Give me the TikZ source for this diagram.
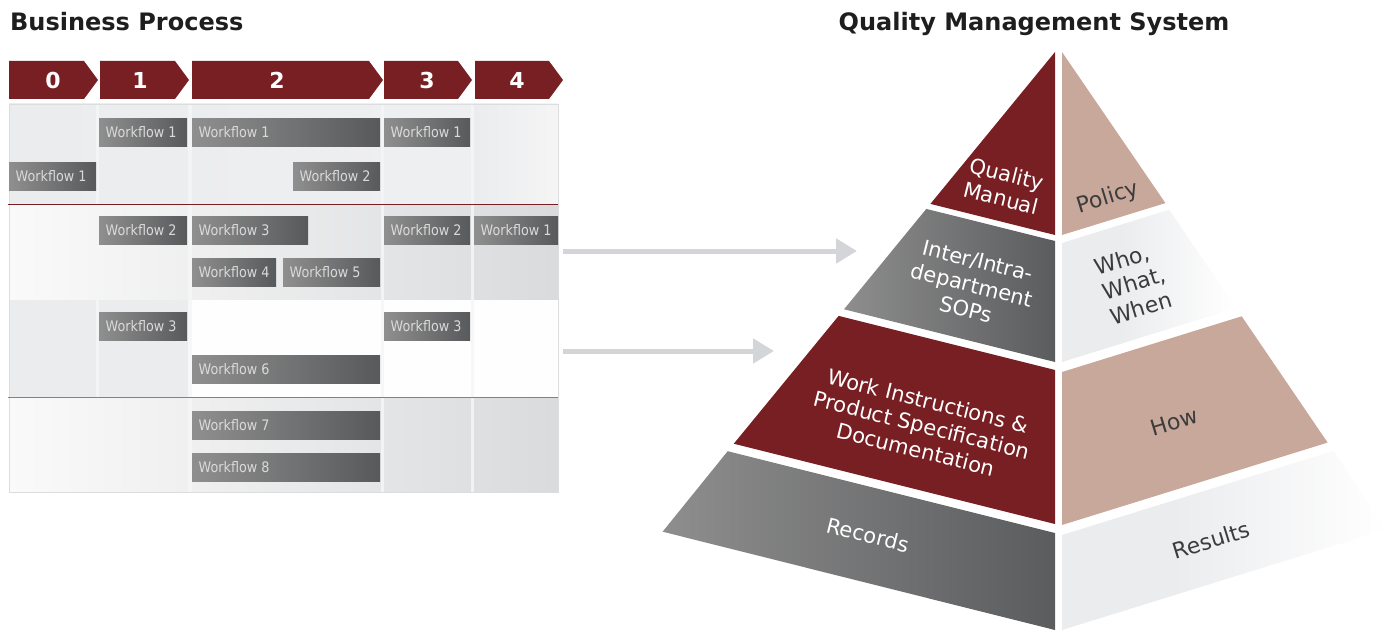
\documentclass[tikz,border=0pt]{standalone}
\usepackage{fontspec}
\setmainfont{DejaVu Sans}
\newfontfamily\barfont[FakeStretch=0.88]{DejaVu Sans}
\usetikzlibrary{arrows.meta}

% palette
\definecolor{brand}{HTML}{781F24}
\definecolor{brandsoft}{HTML}{C0676B}
\definecolor{tan}{HTML}{C8A89B}
\definecolor{bandlight}{HTML}{EBECEE}
\definecolor{arrowgray}{HTML}{D3D5D9}
\definecolor{barlight}{HTML}{8F8F8F}
\definecolor{bardark}{HTML}{58595B}
\definecolor{facelight}{HTML}{8E8E8E}
\definecolor{facedark}{HTML}{5B5C5E}
\definecolor{titleink}{HTML}{1E1E1E}
\definecolor{sideink}{HTML}{3C3C3C}
\definecolor{flowink}{HTML}{DADADA}
\definecolor{gapcol}{HTML}{F5F6F7}
\definecolor{gridedge}{HTML}{DCDDDF}

% light side bands fade out to white towards the right
\pgfdeclarehorizontalshading{fadeband}{100bp}{color(0bp)=(bandlight); color(42bp)=(bandlight); color(75bp)=(white); color(100bp)=(white)}

% one workflow bar: name, left x, top y, width, text
\newcommand{\flowbox}[5]{%
  \node[flowbar, minimum width=#4pt] (#1) at (#2,#3) {};
  \node[flowtext] (#1t) at ([xshift=6.5pt]#1.west) {#5};}

% one phase chevron: name, left x, tip x, label x, number
\newcommand{\phasechev}[5]{%
  \fill[brand] (#2,61) -- (#3-14,61) -- (#3,80) -- (#3-14,99) -- (#2,99) -- cycle;
  \node[phasenum] (#1) at (#4,80) {#5};}

\begin{document}
\begin{tikzpicture}[x=1pt,y=-1pt,
  title/.style={font=\bfseries\fontsize{24}{28}\selectfont, text=titleink, inner sep=0},
  phasenum/.style={font=\bfseries\fontsize{22}{26}\selectfont, text=white, inner sep=0},
  flowbar/.style={left color=barlight, right color=bardark, draw=none, minimum height=28pt, inner sep=0, anchor=north west},
  flowtext/.style={font=\barfont\fontsize{14.5}{17}\selectfont, text=flowink, anchor=west, inner sep=0},
  faceword/.style={font=\fontsize{21}{25}\selectfont, text=white, align=center, rotate=-14, inner sep=0},
  sideword/.style={font=\fontsize{22}{26}\selectfont, text=sideink, rotate=17, inner sep=0},
  flowarrow/.style={draw=arrowgray, line width=5pt, -{Triangle[length=21pt,width=24pt]}},
]
\useasboundingbox (0,0) rectangle (1391,631);

% ---------- titles ----------
\node[title, anchor=base west] (bptitle) at (10,31) {Business Process};
\node[title, anchor=base] (qmstitle) at (1034,31) {Quality Management System};

% ---------- phase chevrons ----------
\phasechev{ph0}{9}{98}{53}{0}
\phasechev{ph1}{100}{189}{140}{1}
\phasechev{ph2}{192}{383}{277}{2}
\phasechev{ph3}{384}{472}{427}{3}
\phasechev{ph4}{475}{563}{517}{4}

% ---------- swimlane background ----------
\fill[left color=bandlight, right color=bandlight!80!white] (9,104) rectangle (558,204);
\fill[left color=bandlight, right color=white!96!black] (474,104) rectangle (558,204);
\fill[left color=white!98!black, right color=black!3!bandlight!90!gray] (9,204) rectangle (558,300);
\fill[white!96!bandlight] (9,300) rectangle (558,397);
\fill[bandlight] (9,300) rectangle (188,397);
\fill[left color=white!98!black, right color=black!3!bandlight!90!gray] (9,397) rectangle (558,492);
% column gaps
\foreach \gx/\gw in {96/3, 187.5/4.5, 380.5/3.5, 470.5/3.5}
  \fill[gapcol, opacity=0.85] (\gx,104) rectangle ++(\gw,388);
\draw[gridedge, line width=0.8pt] (9,104) rectangle (558,492);
% lane separators
\draw[brand, line width=1.2pt] (8,204.5) -- (558,204.5);
\draw[brandsoft, line width=1.6pt] (8,397.5) -- (558,397.5);

% ---------- workflow bars ----------
\flowbox{laneAa}{99}{118}{88}{Workflow 1}
\flowbox{laneAb}{192}{118}{188}{Workflow 1}
\flowbox{laneAc}{384}{118}{86}{Workflow 1}
\flowbox{laneAd}{9}{162}{87}{Workflow 1}
\flowbox{laneAe}{293}{162}{87}{Workflow 2}
\flowbox{laneBa}{99}{216}{88}{Workflow 2}
\flowbox{laneBb}{192}{216}{116}{Workflow 3}
\flowbox{laneBc}{384}{216}{86}{Workflow 2}
\flowbox{laneBd}{474}{216}{84}{Workflow 1}
\flowbox{laneBe}{192}{258}{84}{Workflow 4}
\flowbox{laneBf}{283}{258}{97}{Workflow 5}
\flowbox{laneCa}{99}{312}{88}{Workflow 3}
\flowbox{laneCb}{384}{312}{86}{Workflow 3}
\flowbox{laneCc}{192}{355}{188}{Workflow 6}
\flowbox{laneDa}{192}{411}{188}{Workflow 7}
\flowbox{laneDb}{192}{453}{188}{Workflow 8}

% ---------- arrows into the pyramid ----------
\coordinate (laneBout) at (563,251);
\coordinate (sopin) at (857,251);
\coordinate (laneCout) at (563,351);
\coordinate (workin) at (774,351);
\draw[flowarrow] (laneBout) -- (sopin);
\draw[flowarrow] (laneCout) -- (workin);

% ---------- pyramid, front face ----------
\fill[brand] (1055,52) -- (930.4,203.9) -- (1055,235) -- cycle;
\shade[left color=facelight, right color=facedark] (926.3,208.9) -- (1055,241) -- (1055,362) -- (844,309.3) -- cycle;
\fill[brand] (838.6,315.9) -- (1055,370) -- (1055,524) -- (733.8,443.7) -- cycle;
\shade[left color=facelight, right color=facedark] (727.7,451.2) -- (1055,533) -- (1055,630) -- (662.6,531.7) -- cycle;

% ---------- pyramid, side face ----------
\fill[tan] (1062,52) -- (1165.4,203.1) -- (1062,235) -- cycle;
\shade[shading=fadeband] (1062,243) -- (1169.2,209.7) -- (1236.1,308) -- (1062,362) -- cycle;
\fill[tan] (1062,372) -- (1241.7,316.3) -- (1327.6,442.6) -- (1062,525) -- cycle;
\shade[shading=fadeband] (1062,535) -- (1333.3,450.9) -- (1386.6,529.4) -- (1062,630) -- cycle;

% ---------- pyramid labels ----------
\node[faceword] (qm) at (1004,186) {Quality\\Manual};
\node[faceword] (sop) at (972,285) {Inter/Intra-\\department\\SOPs};
\node[faceword] (wi) at (922,425) {Work Instructions \&\\Product Specification\\Documentation};
\node[faceword] (rec) at (868,535) {Records};

\node[sideword] (policy) at (1108,198) {Policy};
\node[sideword, align=left] (www) at (1134,283) {Who,\\What,\\When};
\node[sideword] (how) at (1174,422) {How};
\node[sideword] (results) at (1211,540) {Results};
\end{tikzpicture}
\end{document}
